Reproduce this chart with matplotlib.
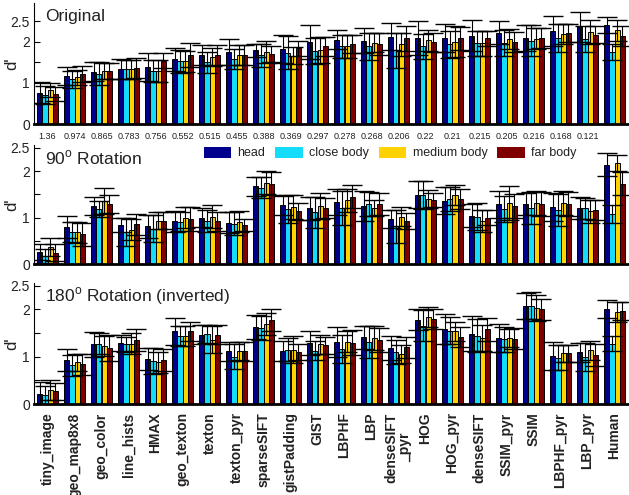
import numpy as np
import matplotlib
matplotlib.use("Agg")
import matplotlib.pyplot as plt

OUTPUT_PATH = "out.png"

plt.rcParams['font.family'] = ['Liberation Sans', 'DejaVu Sans']

methods = ["tiny_image", "geo_map8x8", "geo_color", "line_hists", "HMAX", "geo_texton",
           "texton", "texton_pyr", "sparseSIFT", "gistPadding", "GIST", "LBPHF", "LBP",
           "denseSIFT\n_pyr", "HOG", "HOG_pyr", "denseSIFT", "SSIM_pyr", "SSIM",
           "LBPHF_pyr", "LBP_pyr", "Human"]
conditions = ["head", "close body", "medium body", "far body"]
colors = ["#00008c", "#14dcfa", "#ffd200", "#800000"]

# numbers printed under the first panel (none for Human)
orig_scores = ["1.36", "0.974", "0.865", "0.783", "0.756", "0.552", "0.515", "0.455",
               "0.388", "0.369", "0.297", "0.278", "0.268", "0.206", "0.22", "0.21",
               "0.215", "0.205", "0.216", "0.168", "0.121"]

# Original
orig_head = [0.76, 1.17, 1.27, 1.34, 1.39, 1.58, 1.68, 1.76, 1.80, 1.83, 2.00, 2.05, 2.03, 2.13, 2.10, 2.10, 2.15, 2.22, 2.10, 2.27, 2.37, 2.41]
orig_close = [0.71, 1.09, 1.22, 1.33, 1.29, 1.53, 1.50, 1.58, 1.68, 1.74, 1.78, 1.89, 1.90, 1.80, 1.89, 1.94, 1.97, 1.98, 2.03, 2.09, 2.07, 1.75]
orig_medium = [0.83, 1.14, 1.29, 1.33, 1.29, 1.53, 1.63, 1.68, 1.76, 1.67, 1.80, 1.89, 1.98, 1.95, 2.04, 2.01, 1.97, 2.07, 2.08, 2.19, 2.24, 2.28]
orig_far = [0.73, 1.22, 1.29, 1.37, 1.54, 1.68, 1.68, 1.68, 1.71, 1.85, 1.90, 1.95, 1.95, 2.09, 1.99, 2.09, 2.09, 2.00, 2.10, 2.21, 2.18, 2.14]
orig_head_err = [0.26, 0.23, 0.23, 0.25, 0.33, 0.28, 0.25, 0.31, 0.16, 0.35, 0.41, 0.23, 0.30, 0.33, 0.42, 0.34, 0.38, 0.28, 0.31, 0.37, 0.37, 0.20]
orig_close_err = [0.22, 0.21, 0.28, 0.23, 0.26, 0.28, 0.26, 0.24, 0.28, 0.41, 0.31, 0.28, 0.33, 0.43, 0.30, 0.32, 0.30, 0.31, 0.38, 0.34, 0.31, 0.20]
orig_medium_err = [0.16, 0.18, 0.20, 0.23, 0.26, 0.26, 0.22, 0.24, 0.27, 0.21, 0.31, 0.28, 0.23, 0.28, 0.25, 0.37, 0.30, 0.25, 0.26, 0.24, 0.30, 0.25]
orig_far_err = [0.18, 0.20, 0.20, 0.24, 0.18, 0.30, 0.25, 0.24, 0.20, 0.18, 0.23, 0.22, 0.26, 0.31, 0.24, 0.28, 0.18, 0.24, 0.24, 0.22, 0.20, 0.24]

# 90 degree rotation
rot90_head = [0.25, 0.79, 1.25, 0.84, 0.81, 0.92, 1.00, 0.89, 1.67, 1.26, 1.20, 1.33, 1.25, 0.97, 1.49, 1.36, 1.04, 1.29, 1.29, 1.22, 1.21, 2.14]
rot90_close = [0.18, 0.69, 1.18, 0.69, 0.76, 0.91, 0.92, 0.87, 1.64, 1.19, 1.11, 1.20, 1.29, 0.81, 1.48, 1.40, 1.02, 1.19, 1.20, 1.16, 1.20, 1.08]
rot90_medium = [0.36, 0.68, 1.35, 0.74, 0.93, 1.00, 1.02, 0.91, 1.75, 1.22, 1.25, 1.37, 1.21, 1.02, 1.40, 1.48, 0.92, 1.31, 1.31, 1.31, 1.13, 2.17]
rot90_far = [0.24, 0.64, 1.29, 0.85, 0.93, 0.97, 0.92, 0.84, 1.73, 1.13, 1.20, 1.45, 1.29, 0.92, 1.38, 1.40, 1.00, 1.25, 1.29, 1.29, 1.16, 1.73]
rot90_head_err = [0.17, 0.24, 0.19, 0.16, 0.24, 0.23, 0.20, 0.23, 0.20, 0.20, 0.25, 0.28, 0.33, 0.20, 0.29, 0.29, 0.25, 0.29, 0.23, 0.30, 0.24, 0.25]
rot90_close_err = [0.15, 0.22, 0.17, 0.30, 0.29, 0.21, 0.24, 0.25, 0.23, 0.30, 0.33, 0.36, 0.25, 0.35, 0.30, 0.25, 0.29, 0.28, 0.35, 0.35, 0.23, 0.20]
rot90_medium_err = [0.19, 0.23, 0.28, 0.22, 0.18, 0.23, 0.24, 0.23, 0.24, 0.26, 0.28, 0.25, 0.17, 0.20, 0.20, 0.21, 0.24, 0.36, 0.25, 0.25, 0.25, 0.18]
rot90_far_err = [0.18, 0.25, 0.19, 0.22, 0.18, 0.25, 0.20, 0.12, 0.25, 0.18, 0.21, 0.25, 0.24, 0.17, 0.15, 0.22, 0.17, 0.26, 0.26, 0.26, 0.22, 0.25]

# 180 degree rotation (inverted)
rot180_head = [0.21, 0.93, 1.26, 1.29, 0.95, 1.54, 1.47, 1.12, 1.63, 1.12, 1.29, 1.31, 1.41, 1.19, 1.78, 1.58, 1.49, 1.39, 2.07, 1.01, 1.09, 2.02]
rot180_close = [0.18, 0.82, 1.28, 1.26, 0.91, 1.43, 1.49, 1.00, 1.61, 1.15, 1.13, 1.16, 1.31, 1.10, 1.66, 1.55, 1.44, 1.37, 2.08, 0.98, 1.00, 1.28]
rot180_medium = [0.29, 0.88, 1.22, 1.28, 0.88, 1.43, 1.36, 1.12, 1.69, 1.15, 1.26, 1.32, 1.40, 1.05, 1.84, 1.54, 1.40, 1.40, 2.03, 1.07, 1.14, 1.94]
rot180_far = [0.27, 0.84, 1.19, 1.35, 0.93, 1.54, 1.47, 1.12, 1.78, 1.10, 1.24, 1.30, 1.36, 1.20, 1.80, 1.42, 1.58, 1.38, 2.00, 1.07, 1.03, 1.96]
rot180_head_err = [0.26, 0.23, 0.26, 0.16, 0.24, 0.29, 0.21, 0.20, 0.25, 0.21, 0.26, 0.31, 0.24, 0.25, 0.22, 0.32, 0.37, 0.30, 0.27, 0.30, 0.21, 0.19]
rot180_close_err = [0.20, 0.22, 0.23, 0.15, 0.27, 0.21, 0.19, 0.27, 0.25, 0.25, 0.20, 0.29, 0.34, 0.26, 0.33, 0.29, 0.35, 0.26, 0.28, 0.27, 0.30, 0.16]
rot180_medium_err = [0.21, 0.18, 0.21, 0.23, 0.22, 0.21, 0.29, 0.19, 0.23, 0.28, 0.21, 0.23, 0.25, 0.19, 0.21, 0.20, 0.27, 0.19, 0.27, 0.18, 0.20, 0.21]
rot180_far_err = [0.18, 0.22, 0.27, 0.23, 0.23, 0.20, 0.21, 0.20, 0.23, 0.16, 0.18, 0.27, 0.25, 0.22, 0.21, 0.21, 0.24, 0.22, 0.22, 0.18, 0.23, 0.19]

TEXT = "#222222"


def draw_panel(ax, series, errors, title, ymax):
    x = np.arange(1, len(methods) + 1)
    width = 0.19
    offsets = (np.arange(4) - 1.5) * width
    for k in range(4):
        ax.bar(x + offsets[k], series[k], width, color=colors[k], edgecolor="black",
               linewidth=0.7, label=conditions[k], zorder=2)
        ax.errorbar(x + offsets[k], series[k], yerr=errors[k], fmt="none", ecolor="black",
                    elinewidth=0.8, capsize=7, capthick=1.0, zorder=3)
    ax.set_xlim(0.5, len(methods) + 0.5)
    ax.set_ylim(0, ymax)
    ax.set_yticks([0, 0.5, 1, 1.5, 2, 2.5])
    ax.set_yticklabels(["0", "", "1", "", "2", "2.5"])
    ax.tick_params(axis="y", direction="in", length=4, labelsize=10, labelcolor=TEXT, pad=3)
    ax.tick_params(axis="x", length=0)
    ax.set_xticks([])
    for side in ("top", "right"):
        ax.spines[side].set_visible(False)
    ax.spines["left"].set_linewidth(0.8)
    ax.spines["bottom"].set_linewidth(2.0)
    ax.set_ylabel("d'", fontsize=12, color=TEXT)
    ax.yaxis.set_label_coords(-0.024, 0.5)
    ax.text(0.018, 0.89, title, transform=ax.transAxes, fontsize=12.5, color=TEXT,
            ha="left", va="center")


def main():
    fig = plt.figure(figsize=(6.29, 4.95), dpi=100)
    left, width = 34 / 629, 594 / 629
    ax1 = fig.add_axes([left, 1 - 124 / 495, width, 121 / 495])
    ax2 = fig.add_axes([left, 1 - 264 / 495, width, 119 / 495])
    ax3 = fig.add_axes([left, 1 - 404 / 495, width, 121 / 495])

    draw_panel(ax1, [orig_head, orig_close, orig_medium, orig_far],
               [orig_head_err, orig_close_err, orig_medium_err, orig_far_err],
               "Original", 2.95)
    draw_panel(ax2, [rot90_head, rot90_close, rot90_medium, rot90_far],
               [rot90_head_err, rot90_close_err, rot90_medium_err, rot90_far_err],
               r"90$^\mathregular{o}$ Rotation", 2.56)
    draw_panel(ax3, [rot180_head, rot180_close, rot180_medium, rot180_far],
               [rot180_head_err, rot180_close_err, rot180_medium_err, rot180_far_err],
               r"180$^\mathregular{o}$ Rotation (inverted)", 2.56)

    for i, s in enumerate(orig_scores):
        ax1.annotate(s, xy=(i + 1, 0), xycoords=("data", "axes fraction"),
                     xytext=(0, -6), textcoords="offset points", ha="center", va="top",
                     fontsize=6.5, color=TEXT)

    ax3.set_xticks(np.arange(1, len(methods) + 1))
    ax3.set_xticklabels(methods, rotation=90, fontweight="bold", fontsize=10,
                        color=TEXT, va="top", ha="center", linespacing=1.0)
    ax3.tick_params(axis="x", length=0, pad=6)

    handles, labels = ax2.get_legend_handles_labels()
    ax2.legend(handles[:4], labels[:4], ncol=4, frameon=False, loc="center",
               bbox_to_anchor=(390 / 629, 1 - 153 / 495), bbox_transform=fig.transFigure,
               handlelength=2.2, handleheight=1.0, handletextpad=0.5, columnspacing=0.8,
               fontsize=9, labelcolor=TEXT, borderaxespad=0, borderpad=0)
    for h in ax2.get_legend().legend_handles:
        h.set_edgecolor("none")

    fig.savefig(OUTPUT_PATH, dpi=100)
    plt.close(fig)


if __name__ == "__main__":
    main()
